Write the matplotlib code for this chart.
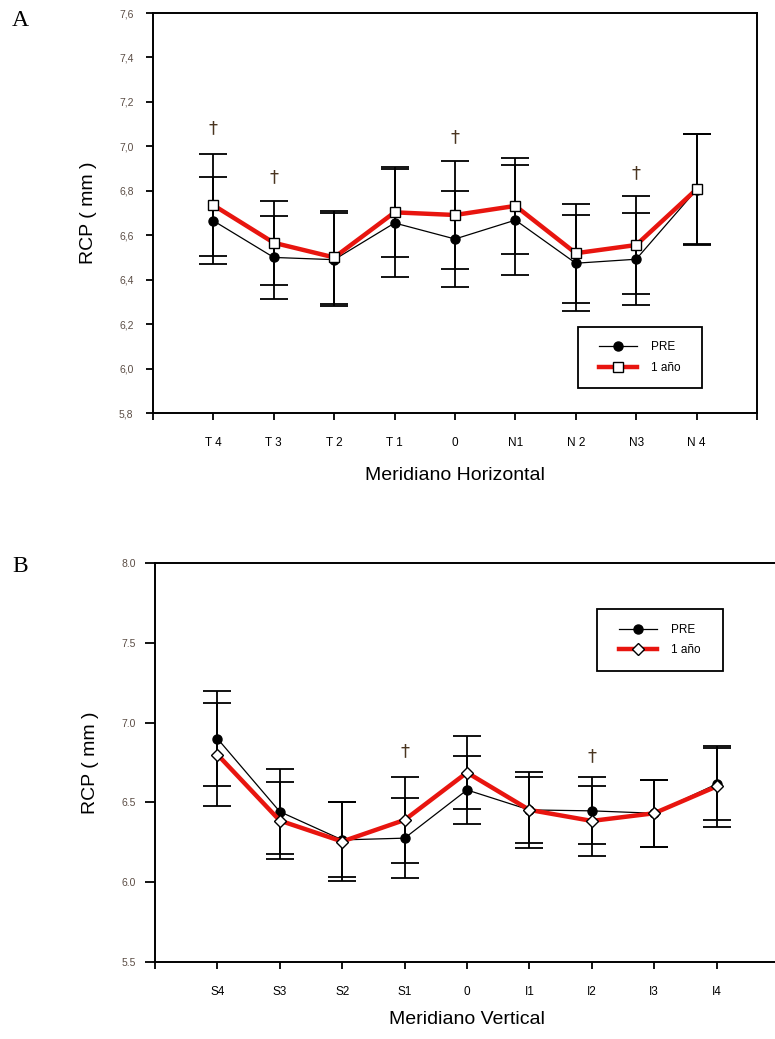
import numpy as np
import matplotlib
matplotlib.use('Agg')
import matplotlib.pyplot as plt
from matplotlib.patches import Rectangle

plt.rcParams['font.family'] = ['Liberation Sans', 'DejaVu Sans']

# Panel A - meridiano horizontal
h_labels = ['T 4', 'T 3', 'T 2', 'T 1', '0', 'N1', 'N 2', 'N3', 'N 4']
pre_h = [6.665, 6.50, 6.49, 6.655, 6.583, 6.668, 6.474, 6.492, 6.805]
pre_h_err = [0.195, 0.185, 0.21, 0.245, 0.215, 0.248, 0.215, 0.207, 0.25]
yr_h = [6.735, 6.566, 6.50, 6.703, 6.691, 6.732, 6.519, 6.556, 6.807]
yr_h_err = [0.23, 0.19, 0.21, 0.203, 0.243, 0.215, 0.222, 0.222, 0.248]
dag_h_pos = [1, 2, 5, 8]
dag_h_y = [7.08, 6.86, 7.04, 6.88]

# Panel B - meridiano vertical
v_labels = ['S4', 'S3', 'S2', 'S1', '0', 'I1', 'I2', 'I3', 'I4']
pre_v = [6.90, 6.442, 6.265, 6.276, 6.578, 6.453, 6.447, 6.432, 6.615]
pre_v_err = [0.30, 0.265, 0.235, 0.25, 0.213, 0.24, 0.21, 0.21, 0.225]
yr_v = [6.80, 6.386, 6.255, 6.39, 6.687, 6.453, 6.384, 6.432, 6.60]
yr_v_err = [0.32, 0.24, 0.25, 0.27, 0.226, 0.205, 0.22, 0.21, 0.255]
dag_v_pos = [4, 7]
dag_v_y = [6.82, 6.79]

W, H = 775, 1039
fig = plt.figure(figsize=(W / 100, H / 100), dpi=100)
ax1 = fig.add_axes([153 / W, 1 - 413 / H, 604 / W, 400 / H])
ax2 = fig.add_axes([155 / W, 1 - 962 / H, 624 / W, 399 / H])

tick_col = '#5b4d45'
dag_col = '#4a3520'


def panel(ax, labels, pre, pre_err, yr, yr_err, marker2, ms2, dpos, dy):
    x = np.arange(1, len(labels) + 1)
    ax.errorbar(x, pre, yerr=pre_err, fmt='none', ecolor='black',
                elinewidth=1.3, capsize=10, capthick=1.3, zorder=2)
    ax.errorbar(x, yr, yerr=yr_err, fmt='none', ecolor='black',
                elinewidth=1.3, capsize=10, capthick=1.3, zorder=2)
    l1, = ax.plot(x, pre, color='black', lw=0.9, marker='o', ms=6.5,
                  mfc='black', mec='black', zorder=3, label='PRE')
    l2, = ax.plot(x, yr, color='#e8150f', lw=3.2, marker=marker2, ms=ms2,
                  mfc='white', mec='black', mew=1.0, zorder=4, label='1 año')
    for p, yy in zip(dpos, dy):
        ax.text(p, yy, '\u2020', ha='center', va='center', fontsize=13,
                color=dag_col, family='DejaVu Sans')
    ax.set_xlim(0, 10)
    ax.set_xticks(range(0, 11))
    ax.set_xticklabels([''] + labels + [''], fontsize=8.5)
    for s in ax.spines.values():
        s.set_linewidth(1.4)
    return l1, l2


def legend_box(ax, handles, x0, y0, x1, y1):
    ax.add_patch(Rectangle((x0, y0), x1 - x0, y1 - y0, transform=ax.transAxes,
                           fill=False, ec='black', lw=1.3, zorder=6))
    ax.legend(handles=handles, loc='center', frameon=False, fontsize=8.5,
              bbox_to_anchor=((x0 + x1) / 2, (y0 + y1) / 2),
              handlelength=3.2, handletextpad=1.2, labelspacing=0.7,
              borderpad=0)


# --- panel A
l1, l2 = panel(ax1, h_labels, pre_h, pre_h_err, yr_h, yr_h_err, 's', 6.5,
               dag_h_pos, dag_h_y)
ax1.set_ylim(5.8, 7.6)
yt = np.arange(5.8, 7.61, 0.2)
ax1.set_yticks(yt)
ax1.set_yticklabels([f'{v:.1f}'.replace('.', ',') for v in yt],
                    fontsize=7.5, color=tick_col)
ax1.tick_params(axis='y', length=5, width=1.3, pad=9)
ax1.tick_params(axis='x', length=5, width=1.3, pad=12)
ax1.set_xlabel('Meridiano Horizontal', fontsize=14, labelpad=13)
ax1.set_ylabel('RCP ( mm )', fontsize=14, labelpad=16)
legend_box(ax1, [l1, l2], 0.704, 0.0625, 0.909, 0.215)

# --- panel B
m1, m2 = panel(ax2, v_labels, pre_v, pre_v_err, yr_v, yr_v_err, 'D', 6.5,
               dag_v_pos, dag_v_y)
ax2.set_ylim(5.5, 8.0)
yt2 = np.arange(5.5, 8.01, 0.5)
ax2.set_yticks(yt2)
ax2.set_yticklabels([f'{v:.1f}' for v in yt2], fontsize=7.5, color=tick_col)
ax2.tick_params(axis='y', length=7, width=1.3, pad=7)
ax2.tick_params(axis='x', length=5, width=1.3, pad=12)
ax2.set_xlabel('Meridiano Vertical', fontsize=14, labelpad=10)
ax2.set_ylabel('RCP ( mm )', fontsize=14, labelpad=16)
legend_box(ax2, [m1, m2], 0.708, 0.729, 0.910, 0.885)

fig.text(12 / W, 1 - 20 / H, 'A', fontsize=17, family='Liberation Serif',
         va='center', ha='left')
fig.text(12 / W, 1 - 567 / H, 'B', fontsize=17, family='Liberation Serif',
         va='center', ha='left')

fig.savefig('out.png', dpi=100)
